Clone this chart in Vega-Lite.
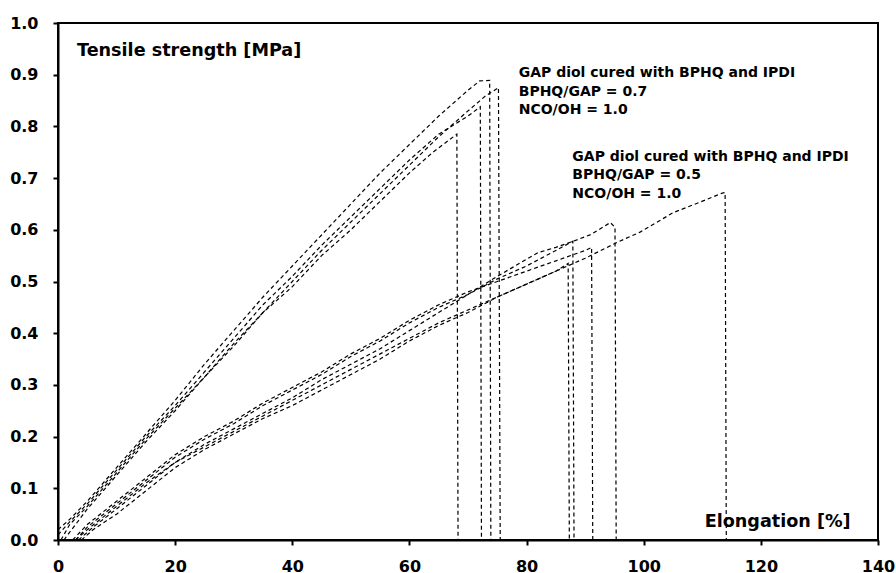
{
  "$schema": "https://vega.github.io/schema/vega-lite/v6.json",
  "autosize": "none",
  "width": 820,
  "height": 517,
  "padding": {"left": 58, "top": 23, "right": 18, "bottom": 33},
  "background": "white",
  "config": {
    "view": {"stroke": "black", "strokeWidth": 2},
    "axis": {
      "domainColor": "black", "domainWidth": 2, "tickColor": "black", "tickWidth": 2, "tickSize": 5,
      "labelFont": "DejaVu Sans", "labelFontWeight": "bold", "labelFontSize": 16, "labelColor": "black",
      "grid": false, "title": null
    }
  },
  "datasets": {
    "curves": [
      {"curve": "A1", "x": 0.5, "y": 0}, {"curve": "A1", "x": 2, "y": 0.03}, {"curve": "A1", "x": 5, "y": 0.065}, {"curve": "A1", "x": 10, "y": 0.13}, {"curve": "A1", "x": 15, "y": 0.195}, {"curve": "A1", "x": 20, "y": 0.255}, {"curve": "A1", "x": 25, "y": 0.315}, {"curve": "A1", "x": 30, "y": 0.38}, {"curve": "A1", "x": 35, "y": 0.44}, {"curve": "A1", "x": 40, "y": 0.49}, {"curve": "A1", "x": 45, "y": 0.55}, {"curve": "A1", "x": 50, "y": 0.6}, {"curve": "A1", "x": 55, "y": 0.655}, {"curve": "A1", "x": 60, "y": 0.71}, {"curve": "A1", "x": 64, "y": 0.75}, {"curve": "A1", "x": 68.1, "y": 0.785}, {"curve": "A1", "x": 68.3, "y": 0},
      {"curve": "A2", "x": 0, "y": 0.01}, {"curve": "A2", "x": 2, "y": 0.035}, {"curve": "A2", "x": 5, "y": 0.07}, {"curve": "A2", "x": 10, "y": 0.135}, {"curve": "A2", "x": 15, "y": 0.2}, {"curve": "A2", "x": 20, "y": 0.26}, {"curve": "A2", "x": 25, "y": 0.325}, {"curve": "A2", "x": 30, "y": 0.39}, {"curve": "A2", "x": 35, "y": 0.455}, {"curve": "A2", "x": 40, "y": 0.51}, {"curve": "A2", "x": 45, "y": 0.57}, {"curve": "A2", "x": 50, "y": 0.625}, {"curve": "A2", "x": 55, "y": 0.68}, {"curve": "A2", "x": 60, "y": 0.735}, {"curve": "A2", "x": 65, "y": 0.785}, {"curve": "A2", "x": 70, "y": 0.82}, {"curve": "A2", "x": 72.1, "y": 0.838}, {"curve": "A2", "x": 72.3, "y": 0},
      {"curve": "A3", "x": 0, "y": 0.02}, {"curve": "A3", "x": 2, "y": 0.04}, {"curve": "A3", "x": 5, "y": 0.075}, {"curve": "A3", "x": 10, "y": 0.14}, {"curve": "A3", "x": 15, "y": 0.205}, {"curve": "A3", "x": 20, "y": 0.27}, {"curve": "A3", "x": 25, "y": 0.34}, {"curve": "A3", "x": 30, "y": 0.405}, {"curve": "A3", "x": 35, "y": 0.47}, {"curve": "A3", "x": 40, "y": 0.53}, {"curve": "A3", "x": 45, "y": 0.59}, {"curve": "A3", "x": 50, "y": 0.65}, {"curve": "A3", "x": 55, "y": 0.71}, {"curve": "A3", "x": 60, "y": 0.765}, {"curve": "A3", "x": 65, "y": 0.82}, {"curve": "A3", "x": 70, "y": 0.87}, {"curve": "A3", "x": 72, "y": 0.888}, {"curve": "A3", "x": 73.7, "y": 0.889}, {"curve": "A3", "x": 73.9, "y": 0},
      {"curve": "A4", "x": 1, "y": 0}, {"curve": "A4", "x": 3, "y": 0.03}, {"curve": "A4", "x": 5, "y": 0.06}, {"curve": "A4", "x": 10, "y": 0.125}, {"curve": "A4", "x": 15, "y": 0.19}, {"curve": "A4", "x": 20, "y": 0.25}, {"curve": "A4", "x": 25, "y": 0.315}, {"curve": "A4", "x": 30, "y": 0.375}, {"curve": "A4", "x": 35, "y": 0.44}, {"curve": "A4", "x": 40, "y": 0.5}, {"curve": "A4", "x": 45, "y": 0.56}, {"curve": "A4", "x": 50, "y": 0.615}, {"curve": "A4", "x": 55, "y": 0.67}, {"curve": "A4", "x": 60, "y": 0.725}, {"curve": "A4", "x": 65, "y": 0.78}, {"curve": "A4", "x": 70, "y": 0.83}, {"curve": "A4", "x": 73, "y": 0.859}, {"curve": "A4", "x": 75.2, "y": 0.875}, {"curve": "A4", "x": 75.5, "y": 0},
      {"curve": "B1", "x": 4, "y": 0}, {"curve": "B1", "x": 6, "y": 0.02}, {"curve": "B1", "x": 10, "y": 0.05}, {"curve": "B1", "x": 15, "y": 0.095}, {"curve": "B1", "x": 20, "y": 0.14}, {"curve": "B1", "x": 25, "y": 0.175}, {"curve": "B1", "x": 30, "y": 0.205}, {"curve": "B1", "x": 35, "y": 0.235}, {"curve": "B1", "x": 40, "y": 0.26}, {"curve": "B1", "x": 45, "y": 0.29}, {"curve": "B1", "x": 50, "y": 0.32}, {"curve": "B1", "x": 55, "y": 0.35}, {"curve": "B1", "x": 60, "y": 0.385}, {"curve": "B1", "x": 65, "y": 0.415}, {"curve": "B1", "x": 70, "y": 0.44}, {"curve": "B1", "x": 75, "y": 0.47}, {"curve": "B1", "x": 80, "y": 0.495}, {"curve": "B1", "x": 85, "y": 0.52}, {"curve": "B1", "x": 87.1, "y": 0.535}, {"curve": "B1", "x": 87.3, "y": 0},
      {"curve": "B2", "x": 3, "y": 0}, {"curve": "B2", "x": 5, "y": 0.025}, {"curve": "B2", "x": 10, "y": 0.07}, {"curve": "B2", "x": 15, "y": 0.115}, {"curve": "B2", "x": 20, "y": 0.16}, {"curve": "B2", "x": 25, "y": 0.195}, {"curve": "B2", "x": 30, "y": 0.225}, {"curve": "B2", "x": 35, "y": 0.26}, {"curve": "B2", "x": 40, "y": 0.29}, {"curve": "B2", "x": 45, "y": 0.32}, {"curve": "B2", "x": 50, "y": 0.355}, {"curve": "B2", "x": 55, "y": 0.385}, {"curve": "B2", "x": 60, "y": 0.42}, {"curve": "B2", "x": 65, "y": 0.45}, {"curve": "B2", "x": 70, "y": 0.475}, {"curve": "B2", "x": 75, "y": 0.505}, {"curve": "B2", "x": 80, "y": 0.53}, {"curve": "B2", "x": 85, "y": 0.56}, {"curve": "B2", "x": 87.9, "y": 0.578}, {"curve": "B2", "x": 88.1, "y": 0},
      {"curve": "B3", "x": 2.5, "y": 0}, {"curve": "B3", "x": 5, "y": 0.03}, {"curve": "B3", "x": 10, "y": 0.075}, {"curve": "B3", "x": 15, "y": 0.12}, {"curve": "B3", "x": 20, "y": 0.165}, {"curve": "B3", "x": 25, "y": 0.2}, {"curve": "B3", "x": 30, "y": 0.23}, {"curve": "B3", "x": 35, "y": 0.265}, {"curve": "B3", "x": 40, "y": 0.295}, {"curve": "B3", "x": 45, "y": 0.325}, {"curve": "B3", "x": 50, "y": 0.36}, {"curve": "B3", "x": 55, "y": 0.39}, {"curve": "B3", "x": 60, "y": 0.425}, {"curve": "B3", "x": 65, "y": 0.455}, {"curve": "B3", "x": 70, "y": 0.48}, {"curve": "B3", "x": 75, "y": 0.5}, {"curve": "B3", "x": 80, "y": 0.52}, {"curve": "B3", "x": 85, "y": 0.54}, {"curve": "B3", "x": 90, "y": 0.56}, {"curve": "B3", "x": 91.1, "y": 0.566}, {"curve": "B3", "x": 91.3, "y": 0},
      {"curve": "B4", "x": 3.5, "y": 0}, {"curve": "B4", "x": 6, "y": 0.025}, {"curve": "B4", "x": 10, "y": 0.06}, {"curve": "B4", "x": 15, "y": 0.105}, {"curve": "B4", "x": 20, "y": 0.15}, {"curve": "B4", "x": 25, "y": 0.185}, {"curve": "B4", "x": 30, "y": 0.215}, {"curve": "B4", "x": 35, "y": 0.245}, {"curve": "B4", "x": 40, "y": 0.275}, {"curve": "B4", "x": 45, "y": 0.31}, {"curve": "B4", "x": 50, "y": 0.34}, {"curve": "B4", "x": 55, "y": 0.37}, {"curve": "B4", "x": 60, "y": 0.405}, {"curve": "B4", "x": 65, "y": 0.44}, {"curve": "B4", "x": 70, "y": 0.475}, {"curve": "B4", "x": 75, "y": 0.51}, {"curve": "B4", "x": 80, "y": 0.543}, {"curve": "B4", "x": 82, "y": 0.556}, {"curve": "B4", "x": 85, "y": 0.566}, {"curve": "B4", "x": 88, "y": 0.578}, {"curve": "B4", "x": 91, "y": 0.591}, {"curve": "B4", "x": 94.3, "y": 0.614}, {"curve": "B4", "x": 95.1, "y": 0.605}, {"curve": "B4", "x": 95.3, "y": 0},
      {"curve": "B5", "x": 3, "y": 0}, {"curve": "B5", "x": 5, "y": 0.02}, {"curve": "B5", "x": 10, "y": 0.065}, {"curve": "B5", "x": 15, "y": 0.11}, {"curve": "B5", "x": 20, "y": 0.15}, {"curve": "B5", "x": 25, "y": 0.18}, {"curve": "B5", "x": 30, "y": 0.21}, {"curve": "B5", "x": 35, "y": 0.24}, {"curve": "B5", "x": 40, "y": 0.27}, {"curve": "B5", "x": 45, "y": 0.3}, {"curve": "B5", "x": 50, "y": 0.33}, {"curve": "B5", "x": 55, "y": 0.36}, {"curve": "B5", "x": 60, "y": 0.39}, {"curve": "B5", "x": 65, "y": 0.42}, {"curve": "B5", "x": 70, "y": 0.445}, {"curve": "B5", "x": 75, "y": 0.47}, {"curve": "B5", "x": 80, "y": 0.495}, {"curve": "B5", "x": 85, "y": 0.52}, {"curve": "B5", "x": 90, "y": 0.545}, {"curve": "B5", "x": 95.9, "y": 0.578}, {"curve": "B5", "x": 99.3, "y": 0.595}, {"curve": "B5", "x": 105, "y": 0.633}, {"curve": "B5", "x": 109.5, "y": 0.653}, {"curve": "B5", "x": 113.4, "y": 0.671}, {"curve": "B5", "x": 113.9, "y": 0.672}, {"curve": "B5", "x": 114.1, "y": 0}
    ],
    "notes": [
      {"x": 78.66, "y": 0.8963, "label": "GAP diol cured with BPHQ and IPDI"},
      {"x": 78.66, "y": 0.8588, "label": "BPHQ/GAP = 0.7"},
      {"x": 78.66, "y": 0.8248, "label": "NCO/OH = 1.0"},
      {"x": 87.82, "y": 0.733, "label": "GAP diol cured with BPHQ and IPDI"},
      {"x": 87.82, "y": 0.6977, "label": "BPHQ/GAP = 0.5"},
      {"x": 87.82, "y": 0.661, "label": "NCO/OH = 1.0"}
    ],
    "titles": [
      {"x": 3.24, "y": 0.936, "label": "Tensile strength [MPa]"},
      {"x": 110.4, "y": 0.0259, "label": "Elongation [%]"}
    ]
  },
  "layer": [
    {
      "data": {"name": "curves"},
      "mark": {"type": "line", "color": "black", "strokeWidth": 1.2, "strokeDash": [4, 3]},
      "encoding": {
        "x": {"field": "x", "type": "quantitative", "scale": {"domain": [0, 140], "nice": false}, "axis": {"values": [0, 20, 40, 60, 80, 100, 120, 140], "labelPadding": 13, "labelFlush": false}},
        "y": {"field": "y", "type": "quantitative", "scale": {"domain": [0, 1], "nice": false}, "axis": {"values": [0, 0.1, 0.2, 0.3, 0.4, 0.5, 0.6, 0.7, 0.8, 0.9, 1.0], "format": ".1f", "labelPadding": 15, "labelFlush": false}},
        "detail": {"field": "curve"}
      }
    },
    {
      "data": {"name": "notes"},
      "mark": {"type": "text", "align": "left", "baseline": "alphabetic", "font": "DejaVu Sans", "fontWeight": "bold", "fontSize": 14, "color": "black"},
      "encoding": {
        "x": {"field": "x", "type": "quantitative"},
        "y": {"field": "y", "type": "quantitative"},
        "text": {"field": "label"}
      }
    },
    {
      "data": {"name": "titles"},
      "mark": {"type": "text", "align": "left", "baseline": "alphabetic", "font": "DejaVu Sans", "fontWeight": "bold", "fontSize": 17.6, "color": "black"},
      "encoding": {
        "x": {"field": "x", "type": "quantitative"},
        "y": {"field": "y", "type": "quantitative"},
        "text": {"field": "label"}
      }
    }
  ]
}
